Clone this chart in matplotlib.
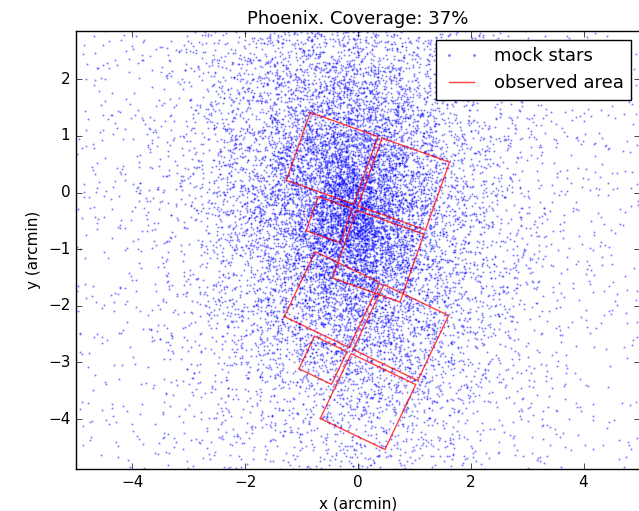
import numpy as np
import matplotlib.pyplot as plt

plt.style.use('classic')

galaxy = 'Phoenix'
coverage = 37

# mock catalogue: exponential profile + flat foreground
n_gal = 15000
n_bg = 900
x0, y0 = -0.15, -0.3       # centre (arcmin)
r_exp = 1.45               # exponential scale length along major axis (arcmin)
axis_ratio = 0.6
pa_deg = 6.0               # major axis, degrees from +y towards -x
seed = 11

# WFPC2 pointings: centre (arcmin) and rotation of the chip frame (deg)
field_x = [-0.05, -0.14]
field_y = [-0.26, -2.79]
field_rot = [-19.6, -25.5]

wf_size = 1.27             # WF chip side (arcmin)
pc_size = 0.64             # PC chip side (arcmin)
chip_gap = 0.04

xlim = (-5, 5)
ylim = (-4.88, 2.85)

rng = np.random.default_rng(seed)
r = rng.gamma(2.0, r_exp, n_gal)
t = rng.uniform(0, 2 * np.pi, n_gal)
u = r * np.cos(t) * axis_ratio
v = r * np.sin(t)
pa = np.radians(pa_deg)
gx = x0 + u * np.cos(pa) - v * np.sin(pa)
gy = y0 + u * np.sin(pa) + v * np.cos(pa)
bx = rng.uniform(xlim[0], xlim[1], n_bg)
by = rng.uniform(ylim[0], ylim[1], n_bg)
star_x = np.concatenate([gx, bx])
star_y = np.concatenate([gy, by])


def chips(cx, cy, rot):
    # four chips around the pointing centre, in the rotated (a, b) frame
    g = chip_gap
    w = wf_size
    p = pc_size
    boxes = [(-w - g, -g, g, w + g),     # WF upper left
             (g, w + g, g, w + g),       # WF upper right
             (g, w + g, -w - g, -g),     # WF lower right
             (-p - g, -g, -p - g, -g)]   # PC lower left
    c, s = np.cos(np.radians(rot)), np.sin(np.radians(rot))
    out = []
    for a0, a1, b0, b1 in boxes:
        a = np.array([a0, a1, a1, a0, a0])
        b = np.array([b0, b0, b1, b1, b0])
        out.append((cx + a * c - b * s, cy + a * s + b * c))
    return out


fig = plt.figure(figsize=(6.39, 5.11), dpi=100)
ax = fig.add_axes([0.1189, 0.0822, 0.8826, 0.857])

ax.plot(star_x, star_y, '.', color='b', markersize=2.8, markeredgewidth=0,
        alpha=0.5, label='mock stars')

first = True
for cx, cy, rot in zip(field_x, field_y, field_rot):
    for px, py in chips(cx, cy, rot):
        ax.plot(px, py, '-', color='r', lw=1, alpha=0.75,
                label='observed area' if first else None)
        first = False

ax.set_xlim(xlim)
ax.set_ylim(ylim)
ax.set_xlabel('x (arcmin)', fontsize=11)
ax.set_ylabel('y (arcmin)', fontsize=11)
ax.set_title('%s. Coverage: %d%%' % (galaxy, coverage), fontsize=13)
ax.tick_params(labelsize=11)
ax.legend(loc='upper right', fontsize=13, numpoints=2, markerscale=1.5)

plt.savefig('out.png', dpi=100)
